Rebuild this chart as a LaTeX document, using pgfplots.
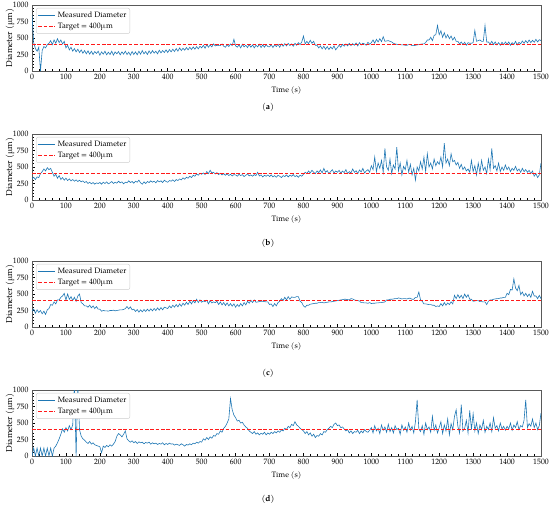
\documentclass[border=0pt]{standalone}
\usepackage{fontspec}
\setmainfont{TeX Gyre Pagella}
\usepackage{pgfplots}
\pgfplotsset{compat=1.18}
\usepackage{pgfplotstable}
\definecolor{mblue}{HTML}{1F77B4}
\definecolor{mred}{HTML}{FF1A1A}

\pgfplotstableread[row sep=\\]{y\\
850\\430\\340\\300\\360\\0\\310\\370\\350\\400\\420\\460\\400\\470\\420\\490\\430\\470\\410\\450\\
350\\390\\320\\360\\300\\340\\290\\330\\280\\320\\270\\310\\260\\305\\255\\300\\250\\295\\265\\300\\
240\\290\\255\\300\\245\\285\\250\\300\\240\\290\\260\\295\\245\\290\\255\\300\\250\\285\\240\\295\\
250\\290\\245\\300\\255\\310\\260\\295\\250\\305\\265\\310\\270\\300\\260\\315\\275\\310\\280\\320\\
280\\325\\290\\330\\295\\340\\300\\350\\310\\345\\315\\355\\320\\360\\325\\365\\330\\370\\335\\375\\
350\\390\\345\\400\\360\\395\\365\\410\\380\\390\\385\\385\\410\\375\\360\\400\\370\\410\\385\\480\\
380\\360\\395\\350\\405\\365\\390\\355\\400\\360\\395\\350\\390\\365\\405\\355\\395\\360\\400\\370\\
365\\400\\355\\395\\370\\405\\360\\410\\375\\415\\380\\420\\385\\410\\375\\420\\390\\430\\400\\440\\
530\\410\\450\\415\\465\\420\\450\\390\\390\\350\\380\\335\\375\\330\\370\\325\\365\\335\\380\\320\\
355\\390\\360\\405\\375\\410\\380\\420\\385\\415\\390\\425\\380\\430\\395\\420\\410\\390\\435\\405\\
430\\470\\420\\480\\440\\490\\445\\520\\450\\455\\460\\450\\440\\420\\410\\405\\400\\400\\395\\395\\
390\\390\\400\\400\\385\\385\\390\\395\\400\\405\\410\\410\\430\\470\\470\\510\\460\\540\\550\\690\\
550\\610\\510\\580\\500\\550\\490\\530\\470\\510\\450\\450\\410\\440\\400\\435\\390\\430\\420\\420\\
430\\615\\450\\460\\470\\450\\450\\690\\440\\440\\410\\450\\400\\440\\395\\430\\390\\435\\400\\440\\
405\\440\\390\\430\\400\\450\\395\\435\\410\\455\\420\\460\\425\\470\\430\\465\\435\\480\\440\\475\\
460\\
}\dataA

\pgfplotstableread[row sep=\\]{y\\
320\\345\\310\\350\\340\\400\\430\\470\\440\\490\\460\\480\\420\\360\\390\\330\\370\\310\\340\\300\\
330\\295\\320\\290\\310\\285\\305\\280\\300\\275\\290\\265\\280\\250\\270\\245\\265\\240\\260\\250\\
265\\240\\270\\250\\275\\245\\260\\280\\250\\270\\255\\285\\260\\275\\245\\270\\260\\290\\265\\280\\
255\\285\\270\\300\\260\\240\\275\\250\\280\\265\\290\\270\\285\\260\\295\\275\\290\\265\\300\\280\\
270\\295\\285\\305\\280\\310\\295\\320\\305\\335\\315\\345\\330\\360\\340\\375\\360\\395\\375\\405\\
390\\410\\385\\430\\400\\450\\410\\420\\395\\415\\385\\405\\380\\400\\375\\395\\370\\390\\365\\385\\
380\\360\\390\\370\\385\\355\\375\\395\\365\\380\\360\\385\\370\\420\\365\\380\\350\\375\\360\\380\\
355\\380\\350\\370\\345\\375\\360\\340\\370\\355\\380\\350\\375\\360\\385\\355\\370\\345\\375\\360\\
390\\420\\400\\440\\410\\450\\420\\400\\440\\415\\455\\410\\480\\420\\445\\400\\430\\460\\410\\440\\
420\\450\\405\\440\\415\\460\\400\\430\\410\\470\\420\\445\\400\\455\\425\\480\\410\\440\\460\\420\\
520\\460\\650\\430\\560\\480\\600\\420\\780\\500\\450\\620\\400\\530\\470\\800\\440\\560\\380\\510\\
460\\600\\420\\540\\380\\480\\300\\500\\440\\580\\470\\650\\430\\700\\500\\560\\470\\620\\520\\580\\
540\\650\\500\\860\\560\\620\\520\\700\\580\\600\\530\\570\\480\\540\\460\\500\\440\\470\\420\\600\\
430\\520\\380\\560\\420\\600\\450\\500\\400\\620\\460\\780\\480\\520\\440\\560\\430\\500\\450\\530\\
460\\500\\430\\480\\450\\510\\440\\470\\420\\480\\430\\460\\420\\450\\400\\440\\360\\400\\340\\380\\
560\\
}\dataB

\pgfplotstableread[row sep=\\]{y\\
240\\270\\210\\260\\220\\250\\200\\240\\190\\260\\280\\340\\330\\380\\350\\410\\410\\450\\470\\510\\
410\\500\\420\\460\\400\\450\\390\\470\\500\\370\\350\\320\\320\\300\\330\\290\\320\\280\\310\\270\\
270\\240\\250\\245\\245\\240\\250\\250\\255\\245\\250\\255\\260\\260\\265\\280\\310\\275\\305\\260\\
270\\235\\265\\225\\260\\230\\265\\235\\270\\240\\275\\245\\280\\250\\290\\255\\295\\260\\300\\290\\
280\\320\\290\\330\\300\\340\\305\\350\\315\\360\\330\\375\\340\\390\\350\\400\\365\\420\\370\\410\\
375\\395\\385\\405\\350\\400\\365\\380\\370\\390\\340\\380\\335\\370\\325\\365\\320\\355\\315\\350\\
300\\340\\310\\355\\320\\370\\335\\390\\360\\405\\370\\410\\375\\380\\385\\390\\390\\385\\380\\380\\
340\\350\\310\\355\\320\\370\\390\\430\\400\\450\\410\\460\\420\\455\\450\\450\\460\\460\\390\\370\\
320\\300\\330\\330\\345\\350\\355\\360\\360\\370\\370\\375\\365\\370\\375\\380\\380\\385\\390\\395\\
400\\405\\410\\415\\420\\420\\415\\410\\430\\425\\410\\405\\400\\395\\370\\370\\365\\365\\360\\370\\
355\\360\\360\\365\\365\\370\\370\\375\\380\\410\\410\\420\\420\\425\\430\\430\\440\\435\\425\\430\\
430\\425\\435\\435\\420\\420\\450\\450\\530\\410\\390\\350\\350\\345\\340\\340\\330\\330\\310\\320\\
310\\355\\320\\370\\330\\365\\340\\380\\350\\480\\430\\490\\440\\480\\430\\500\\450\\490\\420\\420\\
390\\395\\400\\400\\385\\385\\380\\380\\340\\390\\410\\410\\420\\425\\430\\430\\440\\440\\450\\450\\
510\\490\\570\\560\\730\\590\\550\\630\\490\\530\\470\\510\\460\\500\\450\\540\\470\\470\\430\\480\\
430\\
}\dataC

\pgfplotstableread[row sep=\\]{y\\
0\\120\\0\\120\\0\\120\\0\\120\\0\\120\\0\\120\\0\\120\\150\\200\\260\\330\\410\\360\\
430\\380\\460\\400\\470\\1100\\0\\1100\\400\\300\\260\\240\\210\\190\\220\\180\\200\\170\\160\\150\\
140\\50\\150\\130\\160\\140\\170\\150\\180\\220\\300\\340\\320\\290\\330\\380\\260\\230\\210\\230\\
200\\220\\190\\215\\200\\210\\185\\205\\195\\210\\180\\200\\185\\195\\175\\190\\180\\200\\170\\190\\
175\\195\\180\\185\\165\\180\\170\\160\\185\\170\\150\\175\\165\\185\\170\\195\\185\\210\\195\\220\\
210\\260\\240\\280\\250\\290\\270\\310\\300\\340\\330\\380\\360\\420\\450\\500\\560\\870\\700\\620\\
580\\530\\540\\500\\510\\470\\440\\420\\380\\360\\340\\370\\330\\350\\320\\345\\330\\360\\320\\350\\
330\\360\\340\\370\\350\\380\\360\\395\\380\\420\\400\\450\\430\\480\\460\\520\\470\\450\\420\\400\\
380\\340\\370\\320\\350\\300\\330\\280\\310\\300\\340\\320\\370\\360\\400\\420\\450\\430\\480\\500\\
460\\470\\430\\440\\410\\380\\400\\350\\380\\340\\370\\360\\390\\340\\380\\350\\400\\370\\360\\390\\
430\\350\\460\\380\\420\\340\\470\\390\\440\\360\\480\\370\\430\\350\\460\\400\\420\\330\\470\\390\\
440\\360\\500\\390\\450\\350\\520\\850\\410\\370\\460\\330\\500\\400\\440\\360\\600\\390\\470\\350\\
430\\520\\340\\470\\380\\560\\320\\490\\400\\600\\700\\450\\350\\780\\380\\420\\540\\350\\690\\400\\
640\\380\\500\\340\\470\\400\\540\\360\\450\\400\\500\\370\\580\\420\\460\\380\\500\\410\\450\\390\\
450\\410\\500\\390\\470\\430\\520\\400\\460\\440\\540\\850\\430\\490\\450\\560\\430\\500\\400\\460\\
650\\
}\dataD

\pgfplotstableread[row sep=\\]{x y\\
0 400\\
1500 400\\
}\dataT

\pgfplotsset{
  measured/.style={color=mblue, solid, line width=0.6pt},
  target/.style={color=mred, solid, dash pattern=on 3.6pt off 1.8pt, line width=1.1pt},
  panel/.style={
  scale only axis, width=509bp, height=66bp,
  xmin=0, xmax=1500, ymin=0, ymax=1000,
  xtick={0,100,...,1500}, ytick={0,250,500,750,1000},
  minor x tick num=4, minor y tick num=4,
  tick align=inside, tick pos=left,
  major tick length=3bp, minor tick length=1.6bp,
  tick style={black, line width=0.5pt},
  axis line style={black!65, line width=0.8pt},
  tick label style={font=\fontsize{7.8}{8}\selectfont},
  /pgf/number format/1000 sep={},
  /pgf/number format/assume math mode=true,
  xlabel={Time (s)}, ylabel={Diameter (µm)},
  xlabel style={font=\fontsize{7.8}{8}\selectfont},
  ylabel style={font=\fontsize{8.6}{9}\selectfont, at={(axis description cs:-0.043,0.5)}, anchor=center},
  legend cell align=left,
  legend style={at={(0.008,0.955)}, anchor=north west, draw=black!20,
    rounded corners=2pt, fill=white,
    font=\fontsize{7.8}{8.5}\selectfont, inner sep=1.5pt, row sep=0.5pt},
  },
  overlay panel/.style={scale only axis, width=509bp, height=66bp,
    xmin=0, xmax=1500, ymin=0, ymax=1000, hide axis},
}

\begin{document}
\begin{tikzpicture}
\path[use as bounding box] (0,0) rectangle (550bp,-508bp);

\begin{axis}[panel, at={(32bp,-71bp)}, anchor=south west]
\addplot[measured] table[x expr=\coordindex*5, y=y] {\dataA};
\addlegendentry{Measured Diameter}
\addplot[target] table[x=x, y=y] {\dataT};
\addlegendentry{Target = 400µm}
\end{axis}

\begin{axis}[panel, at={(32bp,-200bp)}, anchor=south west]
\addplot[measured] table[x expr=\coordindex*5, y=y] {\dataB};
\addlegendentry{Measured Diameter}
\addplot[target] table[x=x, y=y] {\dataT};
\addlegendentry{Target = 400µm}
\end{axis}
\begin{axis}[overlay panel, at={(32bp,-200bp)}, anchor=south west]
\addplot[target] table[x=x, y=y] {\dataT};
\end{axis}

\begin{axis}[panel, at={(32bp,-327bp)}, anchor=south west]
\addplot[measured] table[x expr=\coordindex*5, y=y] {\dataC};
\addlegendentry{Measured Diameter}
\addplot[target] table[x=x, y=y] {\dataT};
\addlegendentry{Target = 400µm}
\end{axis}

\begin{axis}[panel, at={(32bp,-456bp)}, anchor=south west]
\addplot[measured] table[x expr=\coordindex*5, y=y] {\dataD};
\addlegendentry{Measured Diameter}
\addplot[target] table[x=x, y=y] {\dataT};
\addlegendentry{Target = 400µm}
\end{axis}
\begin{axis}[overlay panel, at={(32bp,-456bp)}, anchor=south west]
\addplot[target] table[x=x, y=y] {\dataT};
\end{axis}

\node[font=\fontsize{8.5}{9}\selectfont] at (268bp,-107bp) {(\textbf{a})};
\node[font=\fontsize{8.5}{9}\selectfont] at (268bp,-243bp) {(\textbf{b})};
\node[font=\fontsize{8.5}{9}\selectfont] at (268bp,-373bp) {(\textbf{c})};
\node[font=\fontsize{8.5}{9}\selectfont] at (268bp,-499bp) {(\textbf{d})};
\end{tikzpicture}
\end{document}
